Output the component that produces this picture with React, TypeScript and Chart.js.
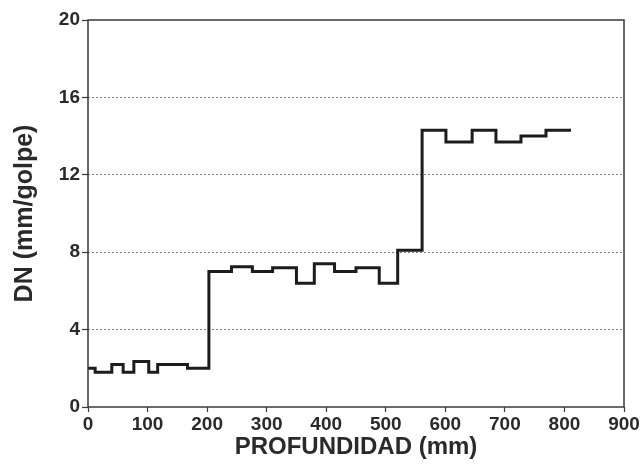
import React, { useEffect, useRef } from "react";
import { Chart, registerables } from "chart.js";

Chart.register(...registerables);

// Step start depths (mm) and DN values (mm/golpe); last point closes the final step
const depthMm = [0, 12, 40, 59, 77, 102, 117, 167, 203, 241, 276, 310, 350, 380, 414, 450, 489, 520, 561, 601, 645, 685, 727, 769, 811];
const dnValues = [2.0, 1.8, 2.2, 1.8, 2.35, 1.8, 2.2, 2.0, 7.0, 7.25, 7.0, 7.2, 6.4, 7.4, 7.0, 7.2, 6.4, 8.1, 14.3, 13.7, 14.3, 13.7, 14.0, 14.3, 14.3];
const xTicks = [0, 100, 200, 300, 400, 500, 600, 700, 800, 900];
const yTicks = [0, 4, 8, 12, 16, 20];
const xTitle = "PROFUNDIDAD (mm)";
const yTitle = "DN (mm/golpe)";

const FONT = "'Liberation Sans', Arial, Helvetica, sans-serif";
const INK = "#2a2a2a";

const boxPlugin = {
  id: "frameBox",
  afterDatasetsDraw(chart: any) {
    const { ctx, chartArea } = chart;
    ctx.save();
    ctx.strokeStyle = "#3a3a3a";
    ctx.lineWidth = 1.5;
    ctx.strokeRect(chartArea.left, chartArea.top, chartArea.right - chartArea.left, chartArea.bottom - chartArea.top);
    ctx.restore();
  },
};

export default function App() {
  const canvasRef = useRef<HTMLCanvasElement | null>(null);

  useEffect(() => {
    if (!canvasRef.current) return;
    const points = depthMm.map((x, i) => ({ x, y: dnValues[i] }));
    const chart = new Chart(canvasRef.current, {
      type: "line",
      data: {
        datasets: [
          {
            data: points,
            stepped: "before",
            borderColor: "#1c1c1c",
            borderWidth: 3,
            pointRadius: 0,
            fill: false,
          },
        ],
      },
      options: {
        animation: false,
        responsive: false,
        maintainAspectRatio: false,
        layout: { padding: { top: 20, right: 19, left: 0, bottom: 0 } },
        plugins: { legend: { display: false }, tooltip: { enabled: false } },
        scales: {
          x: {
            type: "linear",
            min: 0,
            max: 900,
            afterBuildTicks: (scale: any) => {
              scale.ticks = xTicks.map((v) => ({ value: v }));
            },
            afterFit: (scale: any) => {
              scale.height = 60;
            },
            border: { display: false },
            grid: {
              drawOnChartArea: false,
              drawTicks: true,
              tickLength: 5,
              tickColor: "#3a3a3a",
              tickWidth: 1.2,
            },
            ticks: {
              padding: 1,
              color: INK,
              font: { family: FONT, size: 19, weight: "bold" },
              maxRotation: 0,
            },
            title: {
              display: true,
              text: xTitle,
              color: INK,
              font: { family: FONT, size: 24, weight: "bold", lineHeight: 1.2 },
              padding: { top: 0, bottom: 5 },
            },
          },
          y: {
            type: "linear",
            min: 0,
            max: 20,
            afterBuildTicks: (scale: any) => {
              scale.ticks = yTicks.map((v) => ({ value: v }));
            },
            afterFit: (scale: any) => {
              scale.width = 88;
            },
            border: { display: false, dash: [2, 2] },
            grid: {
              color: (ctx: any) =>
                ctx.tick && (ctx.tick.value === 0 || ctx.tick.value === 20) ? "rgba(0,0,0,0)" : "#7a7a7a",
              lineWidth: 1,
              drawTicks: true,
              tickLength: 6,
              tickColor: "#3a3a3a",
              tickWidth: 1.2,
            },
            ticks: {
              padding: 2,
              color: INK,
              font: { family: FONT, size: 19, weight: "bold" },
            },
            title: {
              display: true,
              text: yTitle,
              color: INK,
              font: { family: FONT, size: 25, weight: "bold", lineHeight: 1.2 },
              padding: { top: 10, bottom: 0 },
            },
          },
        },
      },
      plugins: [boxPlugin],
    });
    return () => chart.destroy();
  }, []);

  return (
    <div style={{ position: "absolute", left: 0, top: 0, width: 643, height: 467, background: "#fff" }}>
      <canvas ref={canvasRef} width={643} height={467} style={{ display: "block", width: 643, height: 467 }} />
    </div>
  );
}
